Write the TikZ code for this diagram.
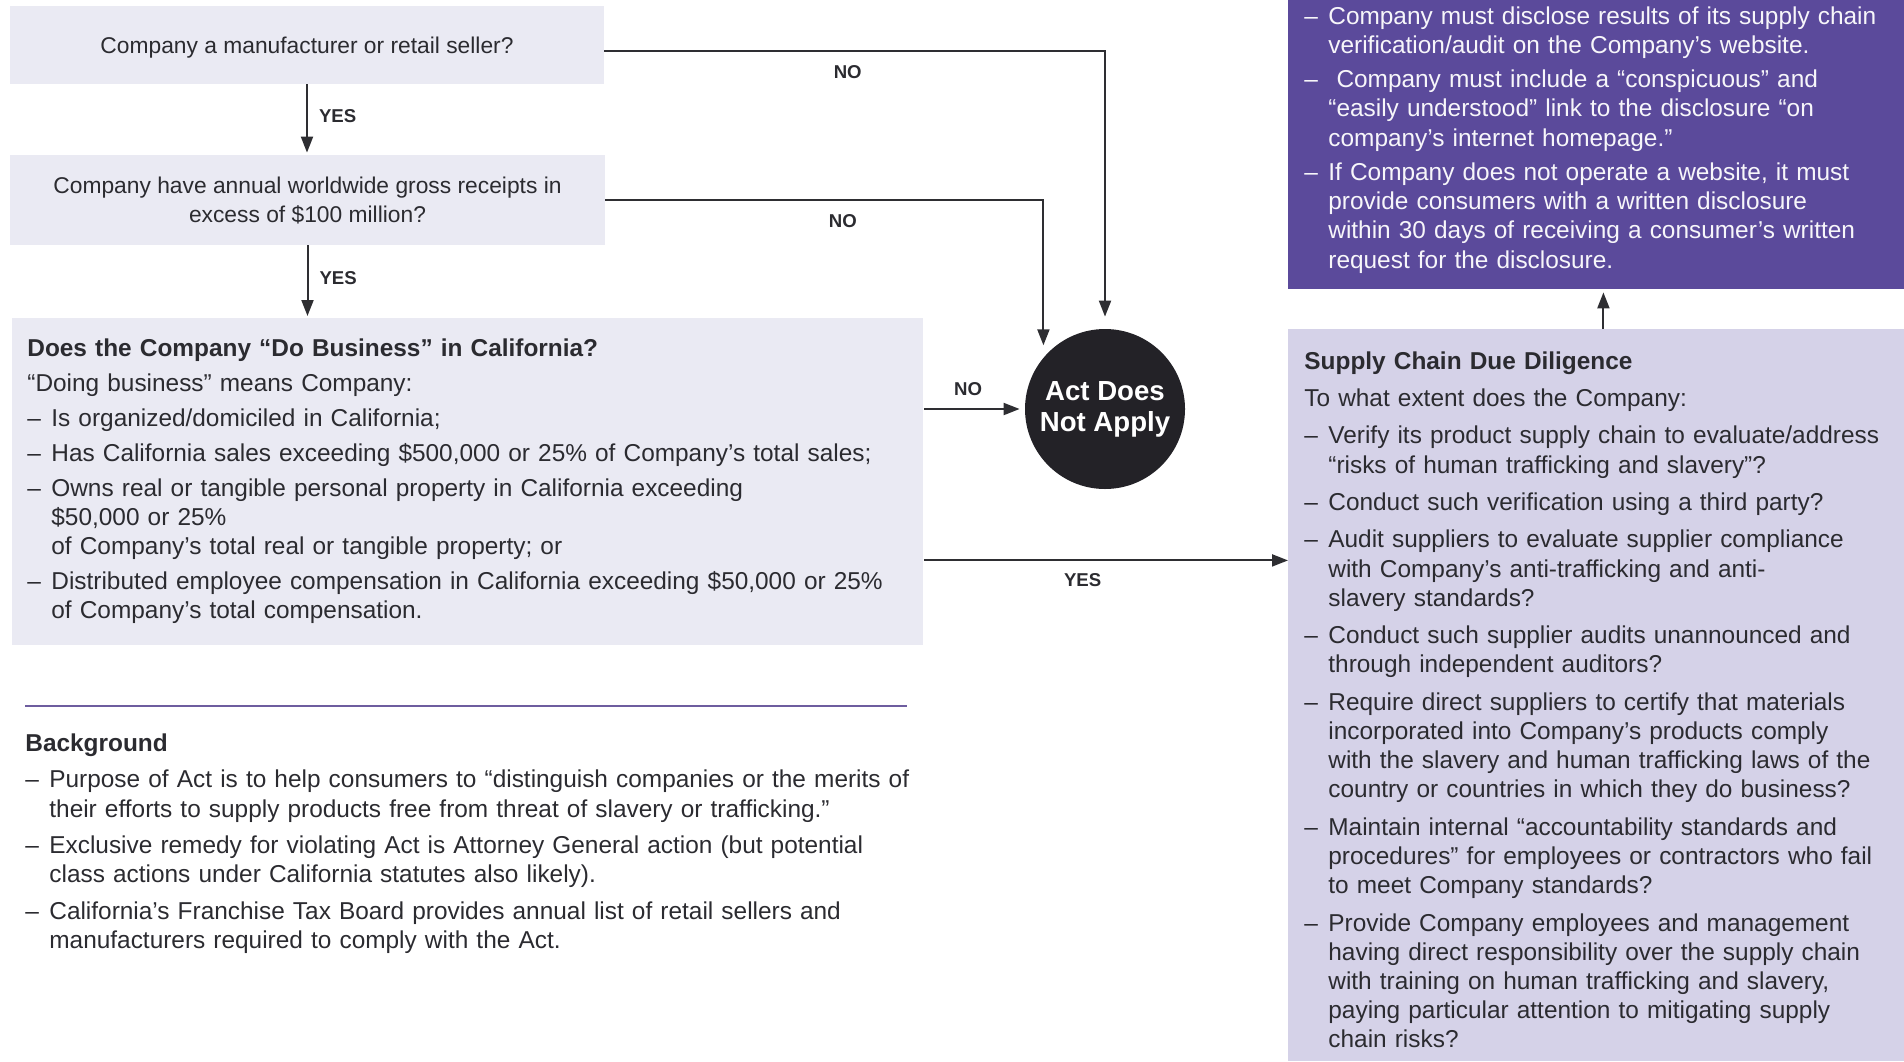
\documentclass[tikz,border=0pt]{standalone}
\usepackage{fontspec}
\setmainfont{Liberation Sans}
\usepackage{tikz}
\usetikzlibrary{arrows.meta,calc}
\usetikzlibrary{positioning}

\definecolor{panelgray}{HTML}{EAEAF3}
\definecolor{deeppurple}{HTML}{5B4A9B}
\definecolor{palepurple}{HTML}{D5D2E8}
\definecolor{inkdark}{HTML}{232227}
\definecolor{textdark}{HTML}{2B2B30}
\definecolor{linegray}{HTML}{2E2E32}
\definecolor{rulepurple}{HTML}{6E5D9F}

\newlength{\itemgap}
\newcommand{\bodysize}{\fontsize{12.2}{14.6}\selectfont}
\newcommand{\nl}{\unskip\nobreak\hfil\break}
\newcommand{\itmstart}{\hangindent=12pt\hangafter=1\makebox[12pt][l]{–}}
\newcommand{\itm}{\par\vspace{\itemgap}\noindent\itmstart}
\newcommand{\hd}[1]{{\fontsize{12.2}{14.6}\selectfont\bfseries #1\par}\vspace{\itemgap}}

\tikzset{
    question/.style={
           rectangle,
           fill=panelgray,
           text=textdark,
           align=center,
           inner sep=0pt,
           text depth=0pt,
           font=\fontsize{11.4}{14.5}\selectfont,
           },
    panel/.style={
           rectangle,
           anchor=north west,
           inner sep=0pt,
           },
    blurb/.style={
           anchor=base west,
           inner sep=0pt,
           text=textdark,
           font=\bodysize,
           execute at begin node={\bodysize\setlength{\itemgap}{#1}},
           },
    blurb/.default=3pt,
    flow/.style={
           ->,
           draw=linegray,
           line width=1pt,
           },
    tag/.style={
           font=\fontsize{9.3}{11}\selectfont\bfseries,
           text=textdark,
           inner sep=1pt,
           },
    stop/.style={
           circle,
           fill=inkdark,
           text=white,
           align=center,
           inner sep=0pt,
           minimum size=80pt,
           font=\fontsize{13.8}{15.5}\selectfont\bfseries,
           }
}

\begin{document}
\begin{tikzpicture}[x=0.5pt,y=-0.5pt,>={Triangle[length=8pt,width=6pt]}]
\useasboundingbox (0,0) rectangle (1904,1061);
\node[question, minimum width=297pt, minimum height=39pt] (maker) at (307,45) {Company a manufacturer or retail seller?};
\node[question, minimum width=297.5pt, minimum height=45pt] (gross) at (307.5,200) {Company have annual worldwide gross receipts in\\excess of \$100 million?};
\node[panel, fill=panelgray, minimum width=455.5pt, minimum height=163.5pt] (biz) at (12,318) {};
\node[blurb=2.9pt, text width=460pt] (biztext) at (27,356) {\hd{Does the Company “Do Business” in California?}%
“Doing business” means Company:
\itm Is organized/domiciled in California;
\itm Has California sales exceeding \$500,000 or 25\% of Company’s total sales;
\itm Owns real or tangible personal property in California exceeding\nl \$50,000 or 25\%\nl of Company’s total real or tangible property; or
\itm Distributed employee compensation in California exceeding \$50,000 or 25\%\nl of Company’s total compensation.\par};
\draw[rulepurple, line width=1pt] (25,705.5) -- (907,705.5);
\node[blurb=3.6pt, text width=460pt] (bgtext) at (25,751.5) {\hd{Background}%
\itmstart Purpose of Act is to help consumers to “distinguish companies or the merits of\nl their efforts to supply products free from threat of slavery or trafficking.”
\itm Exclusive remedy for violating Act is Attorney General action (but potential\nl class actions under California statutes also likely).
\itm California’s Franchise Tax Board provides annual list of retail sellers and\nl manufacturers required to comply with the Act.\par};
\node[stop] (act) at (1105,409) {Act Does\\Not Apply};
\node[panel, fill=deeppurple, minimum width=308pt, minimum height=144.5pt] (disc) at (1288,0) {};
\node[blurb=2.6pt, text width=320pt, text=white!95!deeppurple] (disctext) at (1304,24) {\itmstart Company must disclose results of its supply chain\nl verification/audit on the Company’s website.
\itm \ Company must include a “conspicuous” and\nl “easily understood” link to the disclosure “on\nl company’s internet homepage.”
\itm If Company does not operate a website, it must\nl provide consumers with a written disclosure\nl within 30 days of receiving a consumer’s written\nl request for the disclosure.\par};
\node[panel, fill=palepurple, minimum width=308pt, minimum height=366pt] (dd) at (1288,329) {};
\node[blurb=4.1pt, text width=320pt] (ddtext) at (1304,369) {\hd{Supply Chain Due Diligence}%
To what extent does the Company:
\itm Verify its product supply chain to evaluate/address\nl “risks of human trafficking and slavery”?
\itm Conduct such verification using a third party?
\itm Audit suppliers to evaluate supplier compliance\nl with Company’s anti-trafficking and anti-\nl slavery standards?
\itm Conduct such supplier audits unannounced and\nl through independent auditors?
\itm Require direct suppliers to certify that materials\nl incorporated into Company’s products comply\nl with the slavery and human trafficking laws of the\nl country or countries in which they do business?
\itm Maintain internal “accountability standards and\nl procedures” for employees or contractors who fail\nl to meet Company standards?
\itm Provide Company employees and management\nl having direct responsibility over the supply chain\nl with training on human trafficking and slavery,\nl paying particular attention to mitigating supply\nl chain risks?\par};
\coordinate (yesout) at ([yshift=-39.25pt]biz.east);
\draw[flow, shorten >=1pt] (maker.south) -- node[tag, right=4.5pt, pos=0.45] {YES} (maker.south |- gross.north);
\draw[flow, shorten >=1pt] (gross.south) -- node[tag, right=4.5pt, pos=0.45] {YES} (gross.south |- biz.north);
\draw[flow] ([yshift=-3pt]maker.east) -| node[tag, below=6pt, pos=0.243] {NO} ([yshift=6pt]act.north);
\draw[flow] (gross.east) -| node[tag, below=6pt, pos=0.271] {NO} ([yshift=6pt]act.140);
\draw[flow, shorten >=2.5pt] (biz.east |- act) -- node[tag, above=5pt, pos=0.44] {NO} (act);
\draw[flow] (yesout) -- node[tag, below=5pt, pos=0.436] {YES} (yesout -| dd.west);
\draw[flow, shorten >=1.3pt] ([xshift=3.5pt]dd.north) -- ([xshift=3.5pt]disc.south);
\end{tikzpicture}
\end{document}
